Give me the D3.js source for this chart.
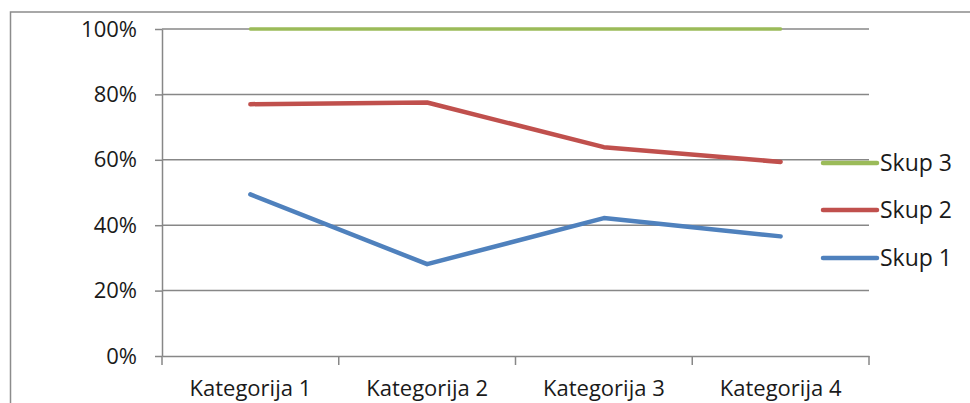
<!DOCTYPE html>
<html>
<head>
<meta charset="utf-8">
<script src="https://cdn.jsdelivr.net/npm/d3@7"></script>
<style>
  body { margin: 0; background: #fff; }
  svg { display: block; font-family: "Open Sans", sans-serif; }
</style>
</head>
<body>
<svg id="drawing_region"></svg>
<script>
const categories = ["Kategorija 1", "Kategorija 2", "Kategorija 3", "Kategorija 4"];
const seriesNames = ["Skup 1", "Skup 2", "Skup 3"];
const skup1 = [4.3, 2.5, 3.5, 4.5];
const skup2 = [2.4, 4.4, 1.8, 2.8];
const skup3 = [2, 2, 3, 5];
const seriesColors = ["#4f81bd", "#c0504d", "#9bbb59"];
const yTicks = [0, 0.2, 0.4, 0.6, 0.8, 1];

const config = {
    width: 970,
    height: 403,
    margin: {top: 29, right: 101, bottom: 47, left: 162}
};

const table = categories.map((c, i) => ({
    category: c,
    "Skup 1": skup1[i],
    "Skup 2": skup2[i],
    "Skup 3": skup3[i]
}));

const stacked = d3.stack()
    .keys(seriesNames)
    .offset(d3.stackOffsetExpand)(table);

const svg = d3.select('#drawing_region')
    .attr('width', config.width)
    .attr('height', config.height);

// chart frame
svg.append('rect')
    .attr('x', 10.5).attr('y', 12)
    .attr('width', 1000).attr('height', 450)
    .attr('fill', 'none')
    .attr('stroke', '#8c8c8c')
    .attr('stroke-width', 1.5);

const inner_width = config.width - config.margin.left - config.margin.right;
const inner_height = config.height - config.margin.top - config.margin.bottom;

const chart = svg.append('g')
    .attr('transform', `translate(${config.margin.left}, ${config.margin.top})`);

const xscale = d3.scaleBand()
    .domain(categories)
    .range([0, inner_width]);

const yscale = d3.scaleLinear()
    .domain([0, 1])
    .range([inner_height, 0]);

// gridlines
chart.append('g')
    .selectAll('line')
    .data(yTicks.slice(1))
    .join('line')
    .attr('x1', 0).attr('x2', inner_width)
    .attr('y1', d => yscale(d)).attr('y2', d => yscale(d))
    .attr('stroke', '#878787')
    .attr('stroke-width', 1.5);

const yaxis = d3.axisLeft(yscale)
    .tickValues(yTicks)
    .tickFormat(d3.format('.0%'))
    .tickSize(7)
    .tickSizeOuter(0)
    .tickPadding(18);

const yaxis_group = chart.append('g').call(yaxis);
yaxis_group.selectAll('path, line').attr('stroke', '#878787').attr('stroke-width', 1.5);
yaxis_group.selectAll('text')
    .attr('font-size', '22px')
    .attr('fill', '#1a1a1a')
    .attr('font-family', '"Open Sans", sans-serif');

const xaxis = d3.axisBottom(xscale)
    .tickSize(0);

const xaxis_group = chart.append('g')
    .attr('transform', `translate(0, ${inner_height})`)
    .call(xaxis);
xaxis_group.select('path').attr('stroke', '#878787').attr('stroke-width', 1.5);
xaxis_group.selectAll('text')
    .attr('dy', null)
    .attr('y', 40)
    .attr('font-size', '22px')
    .attr('fill', '#1a1a1a')
    .attr('font-family', '"Open Sans", sans-serif');

// category boundary ticks
xaxis_group.append('g')
    .selectAll('line')
    .data(d3.range(categories.length + 1))
    .join('line')
    .attr('x1', i => i * xscale.step()).attr('x2', i => i * xscale.step())
    .attr('y1', 0).attr('y2', 9)
    .attr('stroke', '#878787')
    .attr('stroke-width', 1.5);

// lines
const line = d3.line()
    .x(d => xscale(d.data.category) + xscale.bandwidth() / 2)
    .y(d => yscale(d[1]));

chart.append('g')
    .selectAll('path')
    .data(stacked)
    .join('path')
    .attr('d', d => line(d))
    .attr('fill', 'none')
    .attr('stroke', (d, i) => seriesColors[i])
    .attr('stroke-width', d => d.index === 2 ? 3.5 : 4.5)
    .attr('stroke-linecap', 'round')
    .attr('stroke-linejoin', 'round');

// legend
const legendY = [258, 210, 163];
const legend = svg.append('g')
    .selectAll('g')
    .data(seriesNames)
    .join('g')
    .attr('transform', (d, i) => `translate(823, ${legendY[i]})`);

legend.append('line')
    .attr('x1', 0).attr('x2', 54)
    .attr('y1', 0).attr('y2', 0)
    .attr('stroke', (d, i) => seriesColors[i])
    .attr('stroke-width', 4.5)
    .attr('stroke-linecap', 'round');

legend.append('text')
    .attr('x', 57)
    .attr('dy', '0.35em')
    .attr('font-size', '23px')
    .attr('fill', '#1a1a1a')
    .text(d => d);
</script>
</body>
</html>
